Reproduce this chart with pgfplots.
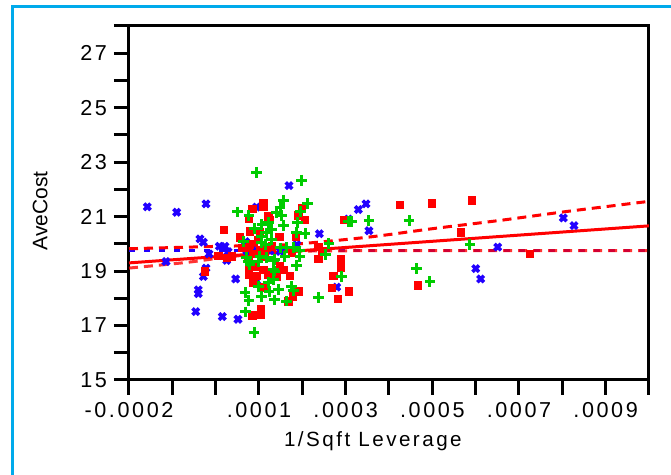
\documentclass[border=0pt]{standalone}
\usepackage{fontspec}
\setmainfont{Liberation Sans}
\newfontfamily\spaced{Liberation Sans}[LetterSpace=12]
\usepackage{pgfplots}
\pgfplotsset{compat=1.18}
\definecolor{jred}{RGB}{255,0,0}
\definecolor{jgreen}{RGB}{0,204,0}
\definecolor{jblue}{RGB}{34,0,255}
\definecolor{jcyan}{RGB}{0,170,235}
\begin{document}
\begin{tikzpicture}
\useasboundingbox (0,0) rectangle (335.5pt,237.5pt);
\draw[jcyan, line width=1.5pt] (6pt,-3pt) -- (6pt,234pt) -- (340pt,234pt);
\begin{axis}[
  at={(64.5pt,47.5pt)}, anchor=south west,
  scale only axis, width=260pt, height=177pt,
  xmin=-0.0002, xmax=0.001, ymin=15, ymax=28,
  axis line style={line width=1.5pt, black},
  tick style={line width=1.5pt, black},
  tick align=outside, major tick length=7.5pt,
  xtick pos=bottom, ytick pos=left,
  xtick={-0.0002,-0.0001,0,0.0001,0.0002,0.0003,0.0004,0.0005,0.0006,0.0007,0.0008,0.0009,0.001},
  xticklabels={-0.0002,,,.0001,,.0003,,.0005,,.0007,,.0009,},
  ytick={15,16,17,18,19,20,21,22,23,24,25,26,27,28},
  yticklabels={15,,17,,19,,21,,23,,25,,27,},
  scaled x ticks=false,
  ticklabel style={font=\spaced\fontsize{10.8}{13}\selectfont},
  xlabel={1/Sqft Leverage}, ylabel={AveCost},
  xlabel style={font=\spaced\fontsize{10.3}{12}\selectfont, at={(axis description cs:0.469,-0.172)}, anchor=center},
  ylabel style={font=\fontsize{10.5}{12}\selectfont, at={(axis description cs:-0.171,0.477)}, anchor=center, rotate=0},
  clip=true,
]
\addplot[only marks, mark=x, mark size=2.3pt, jblue, line width=1.8pt] coordinates {
(-0.0001578,21.36)(-0.0000899,21.16)(-0.0000223,21.47)(-0.0000362,20.18)(-0.0000285,20.06)
(-0.0000154,19.63)(0.0000084,19.91)(0.0000215,19.91)(0.0000255,19.39)(-0.0000223,19.11)
(-0.0000285,18.80)(-0.0000401,18.31)(-0.0000401,18.17)(-0.0000461,17.51)(0.0000153,17.33)
(0.0000515,17.23)(0.0000462,18.71)(0.0000942,21.35)(0.0000688,20.08)(0.0000947,18.64)
(0.0001692,22.14)(0.0001870,19.97)(0.0002392,20.37)(-0.0001146,19.35)(0.0000285,19.71)
(0.0000716,19.74)(0.0000947,19.74)(0.0001254,19.74)(0.0001485,19.72)(0.0003469,21.47)
(0.0003292,21.26)(0.0003061,20.91)(0.0003538,20.48)(0.0002793,18.41)(0.0008022,20.95)
(0.0008269,20.67)(0.0006508,19.88)(0.0006001,19.09)(0.0006116,18.71)
};
\addplot[only marks, mark=square*, mark size=1.85pt, jred, mark options={draw=none, fill=jred}] coordinates {
(0.0000192,20.52)(-0.0000246,18.99)(0.0000061,19.56)(0.0000255,19.48)(0.0001099,21.50)
(0.0001099,21.35)(0.0000845,21.29)(0.0000769,20.91)(0.0001215,21.01)(0.0000792,20.46)
(0.0001023,20.42)(0.0000562,20.24)(0.0000984,20.15)(0.0000753,19.85)(0.0000868,19.63)
(0.0000753,19.44)(0.0001023,19.78)(0.0001138,19.54)(0.0000908,19.17)(0.0000769,19.05)
(0.0000769,18.86)(0.0001099,19.05)(0.0000868,18.56)(0.0001122,18.40)(0.0001215,18.86)
(0.0001046,17.61)(0.0001046,17.39)(0.0000845,17.37)(0.0000370,19.54)(0.0001985,21.32)
(0.0001907,21.04)(0.0002062,20.89)(0.0001254,20.89)(0.0001468,20.25)(0.0001854,20.25)
(0.0001293,19.91)(0.0001755,19.69)(0.0002368,19.88)(0.0002368,19.44)(0.0001485,19.20)
(0.0001561,19.05)(0.0001408,18.78)(0.0001715,18.83)(0.0001907,18.25)(0.0001778,18.07)
(0.0001676,17.88)(0.0004254,21.42)(0.0002968,20.89)(0.0002461,19.75)(0.0002885,19.43)
(0.0002892,19.13)(0.0002715,18.83)(0.0002678,18.38)(0.0003077,18.25)(0.0002816,17.97)
(0.0004985,21.48)(0.0005908,21.59)(0.0005655,20.42)(0.0007254,19.64)(0.0004662,18.47)
(0.0000947,18.82)(0.0000792,19.98)(0.0001178,19.86)(0.0000601,19.86)
};
\addplot[only marks, mark=+, mark size=2.7pt, jgreen, line width=1.5pt] coordinates {
(0.0000947,22.63)(0.0000508,21.17)(0.0000769,21.04)(0.0000892,20.56)(0.0001215,20.77)
(0.0000638,20.09)(0.0000753,19.35)(0.0000677,18.21)(0.0000769,17.92)(0.0001062,18.07)
(0.0001231,18.25)(0.0000693,17.50)(0.0000885,16.74)(0.0000984,18.43)(0.0001215,18.58)
(0.0001353,17.94)(0.0001985,22.34)(0.0001561,21.60)(0.0002124,21.47)(0.0001485,21.32)
(0.0001524,21.04)(0.0001962,21.19)(0.0001561,20.68)(0.0001893,20.79)(0.0001293,20.52)
(0.0002062,20.37)(0.0001870,20.42)(0.0001293,20.15)(0.0001485,19.85)(0.0001369,19.42)
(0.0001600,19.54)(0.0001946,19.54)(0.0001330,19.05)(0.0001870,19.20)(0.0001445,18.31)
(0.0001755,18.43)(0.0001792,18.28)(0.0001369,17.94)(0.0001330,18.68)(0.0002368,18.04)
(0.0003139,20.83)(0.0003061,20.83)(0.0003538,20.86)(0.0004462,20.86)(0.0002615,20.01)
(0.0002539,19.60)(0.0002908,18.80)(0.0005869,19.99)(0.0004639,19.09)(0.0004946,18.61)
(0.0001408,21.14)(0.0001178,20.40)(0.0001062,20.27)(0.0001062,20.04)(0.0001639,19.86)
(0.0001023,19.55)(0.0001178,19.49)(0.0001330,19.37)(0.0001369,19.00)(0.0000716,19.49)
(0.0000792,19.24)(0.0001639,17.90)(0.0001792,19.86)(0.0001946,19.74)(0.0001069,20.70)
(0.0000977,19.34)(0.0001161,19.97)
};
% mean line
\addplot[jblue, line width=1.5pt, dash pattern=on 3pt off 4.5pt] coordinates {(-0.0002,19.75)(0.001,19.75)};
% fit line
\addplot[jred, line width=1.5pt] coordinates {(-0.0002,19.30)(0.001,20.66)};
% confidence curves
\addplot[jred, line width=1.5pt, dash pattern=on 4.5pt off 3pt, smooth] coordinates {
(-0.0002,19.82)(0.00001,19.91)(0.000165,19.97)(0.000349,20.24)(0.000502,20.56)(0.000656,20.86)(0.000811,21.19)(0.001,21.56)};
\addplot[jred, opacity=0.8, line width=1.5pt, dash pattern=on 4.5pt off 3pt, smooth] coordinates {
(-0.0002,19.11)(-0.000066,19.32)(0.00001,19.48)(0.0001,19.64)(0.000195,19.73)(0.0004,19.75)(0.0007,19.75)(0.001,19.75)};
\end{axis}
\end{tikzpicture}
\end{document}
